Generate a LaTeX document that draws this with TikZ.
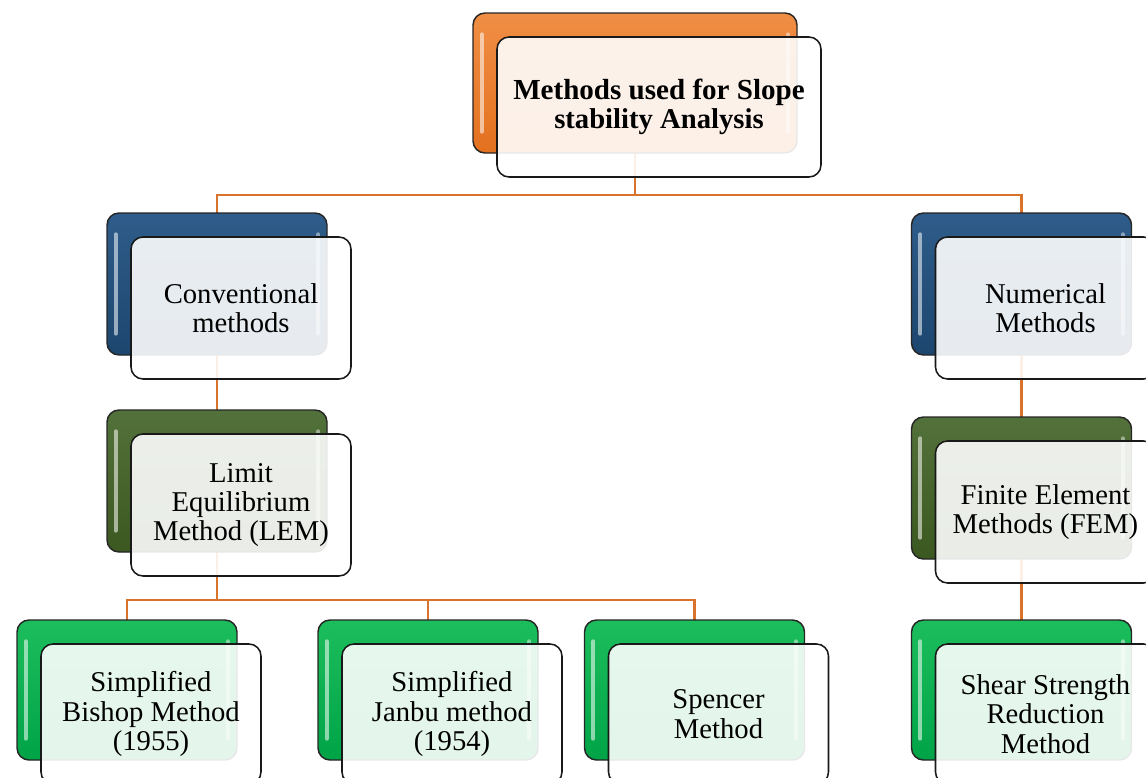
\documentclass[tikz,border=0pt]{standalone}
\usepackage{fontspec}
\setmainfont{Liberation Serif}
\usetikzlibrary{calc}
\pgfdeclarelayer{background}
\pgfsetlayers{background,main}

% palette: D = dark base, L = lighter top
\definecolor{connC}{HTML}{D9732C}
\definecolor{orgD}{HTML}{E3711F}\definecolor{orgL}{HTML}{F08E45}
\definecolor{bluD}{HTML}{1C466E}\definecolor{bluL}{HTML}{2F5C8A}
\definecolor{olvD}{HTML}{3B5820}\definecolor{olvL}{HTML}{53713A}
\definecolor{grnD}{HTML}{00A447}\definecolor{grnL}{HTML}{1CBD5C}

\tikzset{
  backbox/.style={rounded corners=9pt, draw=black!85, line width=1.1pt,
    top color=#1L, bottom color=#1D,
    path picture={
      \draw[white, opacity=0.55, line width=3pt, line cap=round]
        ([shift={(6.5pt,-16pt)}]path picture bounding box.north west) --
        ([shift={(6.5pt,16pt)}]path picture bounding box.south west);
      \draw[white, opacity=0.45, line width=3pt, line cap=round]
        ([shift={(-6.5pt,-16pt)}]path picture bounding box.north east) --
        ([shift={(-6.5pt,16pt)}]path picture bounding box.south east);
    }},
  frontbox/.style={rounded corners=9pt, draw=black!90, line width=1.15pt,
    fill=white, fill opacity=0.895, text opacity=1, text=black,
    align=center, inner sep=2pt, font=\fontsize{21.5}{22}\selectfont},
  conn/.style={draw=connC, line width=2.2pt},
}

% #1 name, #2,#3 centre of rear card (px), #4 width, #5 height, #6 palette, #7 label
\newcommand{\cardpair}[7]{%
  \node[backbox=#6, minimum width=#4*0.75pt, minimum height=#5*0.75pt] (#1B) at (#2,#3) {};
  \node[frontbox, minimum width=#4*0.75pt, minimum height=#5*0.75pt] (#1) at (#2+24,#3+24) {#7};
}

\begin{document}
\begin{tikzpicture}[x=0.75pt, y=-0.75pt]
  \useasboundingbox (0,0) rectangle (1146,778);
  \clip (0,0) rectangle (1146,778);

  \cardpair{top}{635}{83}{324}{140}{org}{\fontsize{21.8}{22}\selectfont\bfseries Methods used for Slope\\\bfseries stability Analysis}
  \cardpair{conv}{217}{284}{220}{142}{blu}{Conventional\\methods}
  \cardpair{num}{1021.5}{284}{220}{142}{blu}{Numerical\\Methods}
  \cardpair{lem}{217}{481}{220}{142}{olv}{Limit\\Equilibrium\\Method (LEM)}
  \cardpair{fem}{1021.5}{488}{220}{142}{olv}{Finite Element\\Methods (FEM)}
  \cardpair{bishop}{127}{690}{220}{140}{grn}{Simplified\\Bishop Method\\(1955)}
  \cardpair{janbu}{428}{690}{220}{140}{grn}{Simplified\\Janbu method\\(1954)}
  \cardpair{spencer}{694.5}{690}{220}{140}{grn}{Spencer\\Method}
  \cardpair{ssr}{1021.5}{690}{220}{140}{grn}{Shear Strength\\Reduction\\Method}

  \coordinate (busTop) at (635,195);
  \coordinate (busLem) at (217,600);

  \begin{pgfonlayer}{background}
    \draw[conn] (topB.center) -- (busTop) -| (convB.center);
    \draw[conn] (busTop) -| (numB.center);
    \draw[conn] (convB.center) -- (lemB.center);
    \draw[conn] (lemB.center) -- (busLem) -| (bishopB.center);
    \draw[conn] (busLem) -| (janbuB.center);
    \draw[conn] (busLem) -| (spencerB.center);
    \draw[conn] (numB.center) -- (femB.center);
    \draw[conn] (femB.center) -- (ssrB.center);
  \end{pgfonlayer}
\end{tikzpicture}
\end{document}
